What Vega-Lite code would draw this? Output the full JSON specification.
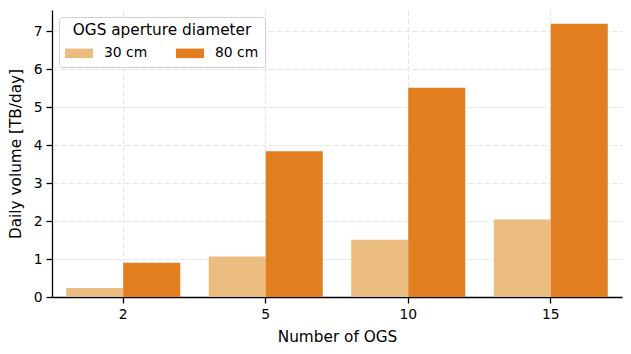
{
  "$schema": "https://vega.github.io/schema/vega-lite/v6.json",
  "width": 570,
  "height": 287,
  "autosize": "none",
  "padding": {"left": 52, "top": 10, "right": 9, "bottom": 57},
  "background": "white",
  "config": {
    "view": {"stroke": null},
    "font": "DejaVu Sans",
    "axis": {
      "domainColor": "#000000",
      "domainWidth": 1.3,
      "tickColor": "#000000",
      "tickWidth": 1.3,
      "tickSize": 6,
      "labelColor": "#000000",
      "labelFont": "DejaVu Sans",
      "labelFontSize": 13.9,
      "labelPadding": 4,
      "titleColor": "#000000",
      "titleFont": "DejaVu Sans",
      "titleFontSize": 15.3,
      "titleFontWeight": "normal",
      "grid": true,
      "gridColor": "#e3e3e3",
      "gridDash": [5, 3],
      "gridWidth": 1
    }
  },
  "data": {
    "values": [
      {"ogs": 2, "aperture": "30 cm", "volume": 0.24},
      {"ogs": 2, "aperture": "80 cm", "volume": 0.9},
      {"ogs": 5, "aperture": "30 cm", "volume": 1.07},
      {"ogs": 5, "aperture": "80 cm", "volume": 3.84},
      {"ogs": 10, "aperture": "30 cm", "volume": 1.51},
      {"ogs": 10, "aperture": "80 cm", "volume": 5.51},
      {"ogs": 15, "aperture": "30 cm", "volume": 2.04},
      {"ogs": 15, "aperture": "80 cm", "volume": 7.2}
    ]
  },
  "mark": {"type": "bar"},
  "encoding": {
    "x": {
      "field": "ogs",
      "type": "ordinal",
      "sort": [2, 5, 10, 15],
      "scale": {"paddingInner": 0.2, "paddingOuter": 0.1},
      "axis": {"title": "Number of OGS", "labelAngle": 0, "titlePadding": 9}
    },
    "xOffset": {
      "field": "aperture",
      "type": "nominal",
      "sort": ["30 cm", "80 cm"],
      "scale": {"paddingInner": 0, "paddingOuter": 0}
    },
    "y": {
      "field": "volume",
      "type": "quantitative",
      "scale": {"domain": [0, 7.56], "nice": false},
      "axis": {"title": "Daily volume [TB/day]", "values": [0, 1, 2, 3, 4, 5, 6, 7], "titlePadding": 10}
    },
    "color": {
      "field": "aperture",
      "type": "nominal",
      "scale": {"domain": ["30 cm", "80 cm"], "range": ["#EBBC80", "#E07E20"]},
      "legend": {
        "title": "OGS aperture diameter",
        "orient": "none",
        "legendX": 7,
        "legendY": 7,
        "direction": "horizontal",
        "columns": 2,
        "columnPadding": 28,
        "symbolType": "M-1,-0.34H1V0.34H-1Z",
        "symbolSize": 784,
        "symbolStrokeWidth": 0,
        "symbolOpacity": 1,
        "labelFont": "DejaVu Sans",
        "labelFontSize": 13.9,
        "labelColor": "#000000",
        "labelOffset": 11,
        "titleFont": "DejaVu Sans",
        "titleFontSize": 15.3,
        "titleFontWeight": "normal",
        "titleColor": "#000000",
        "titleAnchor": "middle",
        "titlePadding": 1,
        "fillColor": "white",
        "strokeColor": "#d0d0d0",
        "cornerRadius": 3,
        "padding": 6
      }
    }
  }
}
